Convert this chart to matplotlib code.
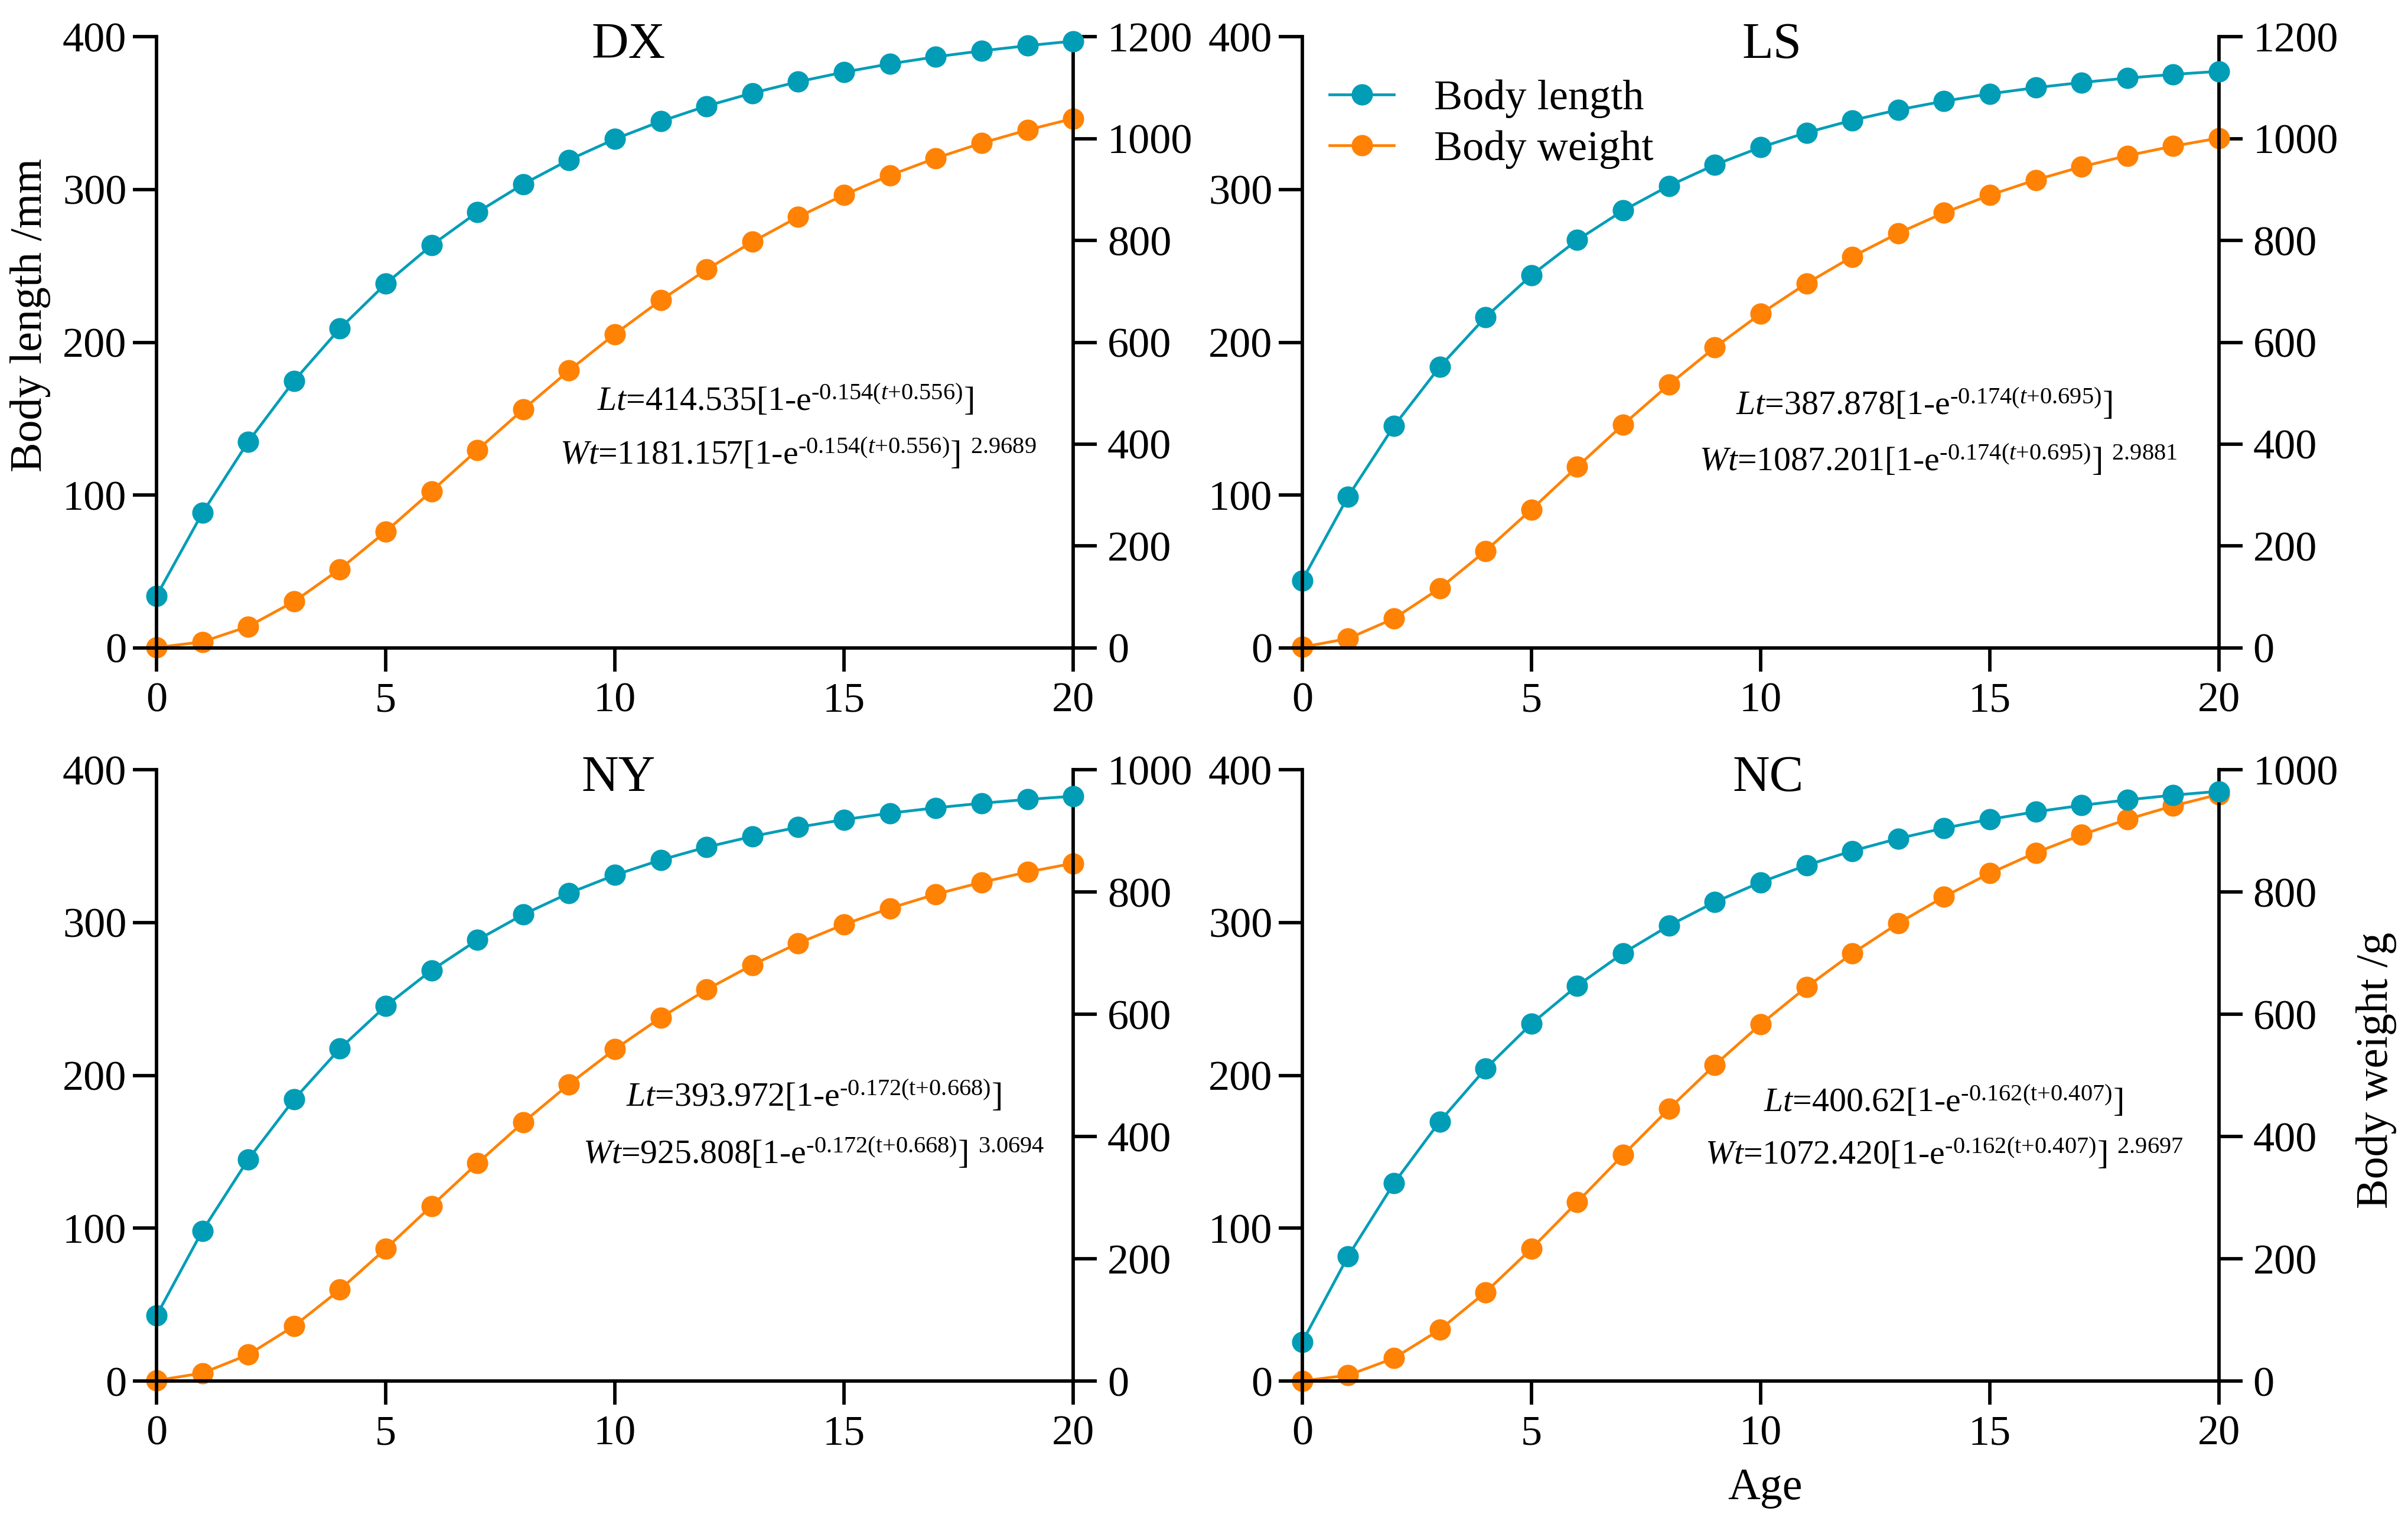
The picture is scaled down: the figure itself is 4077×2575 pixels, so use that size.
import matplotlib.pyplot as plt

plt.rcParams['font.family'] = ['Liberation Serif', 'DejaVu Serif']
plt.rcParams['mathtext.fontset'] = 'custom'
plt.rcParams['mathtext.rm'] = 'Liberation Serif'
plt.rcParams['mathtext.it'] = 'Liberation Serif:italic'
plt.rcParams['mathtext.bf'] = 'Liberation Serif:bold'

# ages (years)
age = list(range(21))

# body length (mm)
dx_length = [34.0, 88.3, 134.9, 174.8, 209.0, 238.3, 263.5, 285.1, 303.5, 319.4, 333.0,
             344.6, 354.6, 363.1, 370.5, 376.8, 382.2, 386.8, 390.7, 394.1, 397.1]
ls_length = [44.2, 99.1, 145.2, 184.0, 216.5, 243.9, 266.9, 286.2, 302.4, 316.1, 327.6,
             337.2, 345.3, 352.1, 357.8, 362.6, 366.6, 370.0, 372.9, 375.3, 377.3]
ny_length = [42.8, 98.3, 145.0, 184.3, 217.5, 245.4, 268.8, 288.6, 305.3, 319.3, 331.1,
             341.0, 349.4, 356.4, 362.4, 367.4, 371.6, 375.1, 378.1, 380.6, 382.7]
nc_length = [25.6, 81.7, 129.4, 169.9, 204.4, 233.8, 258.7, 280.0, 298.0, 313.4, 326.4,
             337.5, 346.9, 355.0, 361.8, 367.6, 372.5, 376.7, 380.3, 383.4, 385.9]

# body weight (g)
dx_weight = [0.7, 12.0, 42.1, 91.0, 154.7, 228.4, 307.7, 388.6, 468.2, 544.6, 616.2,
             682.5, 742.8, 797.3, 846.1, 889.5, 927.8, 961.5, 991.0, 1016.8, 1039.3]
ls_weight = [1.7, 18.4, 57.7, 117.0, 190.4, 271.8, 355.7, 438.4, 516.9, 589.8, 656.1,
             715.4, 768.0, 814.1, 854.2, 888.9, 918.8, 944.5, 966.4, 985.0, 1000.9]
ny_weight = [1.0, 13.0, 43.1, 90.0, 149.4, 216.4, 286.5, 356.2, 423.1, 485.6, 542.9,
             594.5, 640.4, 680.8, 716.2, 747.0, 773.5, 796.4, 815.9, 832.7, 847.0]
nc_weight = [0.3, 9.5, 37.4, 84.0, 145.4, 216.6, 292.7, 369.9, 445.3, 517.0, 583.6,
             644.5, 699.5, 748.7, 792.3, 830.7, 864.3, 893.5, 918.9, 940.9, 959.8]

sites = ['DX', 'LS', 'NY', 'NC']
lengths = [dx_length, ls_length, ny_length, nc_length]
weights = [dx_weight, ls_weight, ny_weight, nc_weight]
weight_max = [1200, 1200, 1000, 1000]

length_eqs = [
    r'$\mathit{Lt}$=414.535[1-$\mathrm{e}^{‐0.154(\mathit{t}{+}0.556)}$]',
    r'$\mathit{Lt}$=387.878[1-$\mathrm{e}^{‐0.174(\mathit{t}{+}0.695)}$]',
    r'$\mathit{Lt}$=393.972[1-$\mathrm{e}^{‐0.172(\mathrm{t}{+}0.668)}$]',
    r'$\mathit{Lt}$=400.62[1-$\mathrm{e}^{‐0.162(\mathrm{t}{+}0.407)}$]',
]
weight_eqs = [
    r'$\mathit{Wt}$=1181.157[1-$\mathrm{e}^{‐0.154(\mathit{t}{+}0.556)}]^{\enspace 2.9689}$',
    r'$\mathit{Wt}$=1087.201[1-$\mathrm{e}^{‐0.174(\mathit{t}{+}0.695)}]^{\enspace 2.9881}$',
    r'$\mathit{Wt}$=925.808[1-$\mathrm{e}^{‐0.172(\mathrm{t}{+}0.668)}]^{\enspace 3.0694}$',
    r'$\mathit{Wt}$=1072.420[1-$\mathrm{e}^{‐0.162(\mathrm{t}{+}0.407)}]^{\enspace 2.9697}$',
]

teal = '#019DB7'
orange = '#FF8205'
serif = 'Liberation Serif'

W, H = 4077, 2575
fig = plt.figure(figsize=(W / 260, H / 260), dpi=260)

# axes rectangles (left, bottom, width, height) in figure fraction
boxes = [
    (0.0650, 0.5740, 0.3807, 0.4019),
    (0.5408, 0.5740, 0.3807, 0.4019),
    (0.0650, 0.0920, 0.3807, 0.4019),
    (0.5408, 0.0920, 0.3807, 0.4019),
]
title_x = [0.515, 0.512, 0.504, 0.508]
eq_pos = [
    ((0.686, 0.388), (0.700, 0.300)),
    ((0.678, 0.382), (0.694, 0.290)),
    ((0.717, 0.449), (0.717, 0.356)),
    ((0.699, 0.441), (0.700, 0.355)),
]

tick_fs = 20
label_fs = 21
eq_fs = 16
lw = 1.3
ms = 9
spine_w = 1.6

for i, site in enumerate(sites):
    ax = fig.add_axes(boxes[i])
    ax2 = ax.twinx()
    ax.set_zorder(ax2.get_zorder() + 1)
    ax.patch.set_visible(False)

    l1, = ax.plot(age, lengths[i], color=teal, marker='o', ms=ms, lw=lw,
                  clip_on=False, label='Body length')
    l2, = ax2.plot(age, weights[i], color=orange, marker='o', ms=ms, lw=lw,
                   clip_on=False, label='Body weight')

    ax.set_xlim(0, 20)
    ax.set_ylim(0, 400)
    ax.set_xticks([0, 5, 10, 15, 20])
    ax.set_yticks([0, 100, 200, 300, 400])
    ax2.set_ylim(0, weight_max[i])
    ax2.set_yticks(list(range(0, weight_max[i] + 1, 200)))

    for a in (ax, ax2):
        for s in a.spines.values():
            s.set_linewidth(spine_w)
        a.spines['top'].set_visible(False)
        a.tick_params(direction='out', length=11, width=spine_w, labelsize=tick_fs,
                      labelfontfamily=serif)
    ax.spines['right'].set_visible(False)
    ax2.spines['left'].set_visible(False)
    ax2.spines['bottom'].set_visible(False)
    ax.tick_params(axis='y', pad=3)
    ax.tick_params(axis='x', pad=5)
    ax2.tick_params(axis='y', pad=5)

    ax.text(title_x[i], 0.965, site, transform=ax.transAxes, ha='center',
            va='baseline', fontsize=24, family=serif)
    (lx, ly), (wx, wy) = eq_pos[i]
    ax.text(lx, ly, length_eqs[i], transform=ax.transAxes, ha='center',
            va='baseline', fontsize=eq_fs, family=serif)
    ax.text(wx, wy, weight_eqs[i], transform=ax.transAxes, ha='center',
            va='baseline', fontsize=eq_fs, family=serif)

    if site == 'LS':
        ax.legend([l1, l2], ['Body length', 'Body weight'], loc='upper left',
                  bbox_to_anchor=(0.03, 0.93), frameon=False,
                  prop={'family': serif, 'size': tick_fs},
                  handlelength=1.5, handletextpad=0.95, labelspacing=0.28,
                  borderaxespad=0, borderpad=0)

fig.text(52 / W, 1 - 533 / H, 'Body length /mm', rotation=90, ha='center',
         va='center', fontsize=label_fs, family=serif)
fig.text(4023 / W, 1 - 1812 / H, 'Body weight /g', rotation=90, ha='center',
         va='center', fontsize=label_fs, family=serif)
fig.text(2988 / W, 1 - 2538 / H, 'Age', ha='center', va='baseline',
         fontsize=label_fs, family=serif)

fig.savefig('out.png', dpi=260)
